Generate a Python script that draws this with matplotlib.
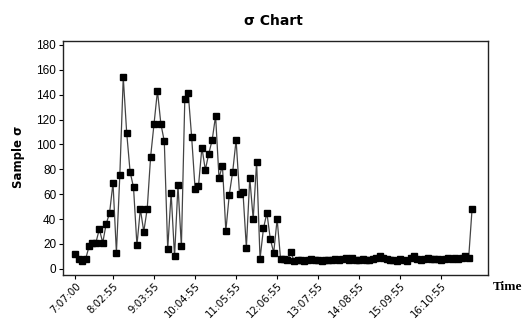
import matplotlib
matplotlib.use("Agg")
import matplotlib.pyplot as plt

# Per-sample standard deviation, in time order
sigma = [
    12, 8, 6.5, 8, 18, 21, 21, 32, 21, 36,
    45, 69, 13, 75.5, 154, 109.5, 78, 65.5, 19, 48,
    30, 48, 90, 116.5, 143, 116.5, 102.5, 16, 61, 10,
    67, 18, 136.5, 141, 106, 64.5, 66.5, 97.5, 79.5, 92.5,
    103.5, 123, 73, 83, 30.5, 59.5, 78, 103.5, 60, 62,
    17, 73, 40, 86, 8, 32.5, 45, 24, 13, 40,
    8, 8, 7, 13.5, 6, 7, 7, 6.5, 7, 8,
    7, 7, 6.5, 7, 7, 7.5, 8, 7, 8, 8.5,
    7.5, 9, 7, 7, 8, 7, 7.5, 8, 9, 10.5,
    9, 8, 7, 7.5, 6.5, 8, 7.5, 6.5, 9, 10,
    8, 7, 8, 9, 8, 8, 8, 7.5, 8, 8.5,
    8, 9, 8, 9, 10, 8.5, 48,
]

tick_pos = [0, 11, 23, 35, 47, 59, 71, 83, 95, 107]
tick_labels = ["7:07:00", "8:02:55", "9:03:55", "10:04:55", "11:05:55",
               "12:06:55", "13:07:55", "14:08:55", "15:09:55", "16:10:55"]
y_ticks = list(range(0, 181, 20))

fig = plt.figure(figsize=(5.3, 3.21), dpi=100)
ax = fig.add_axes([0.119, 0.143, 0.802, 0.729])

x = list(range(len(sigma)))
ax.plot(x, sigma, color="#444444", linewidth=0.9, marker="s",
        markersize=4.0, markerfacecolor="black", markeredgecolor="black")

ax.set_xlim(-3.6, 120.7)
ax.set_ylim(-5, 183)
ax.set_yticks(y_ticks)
ax.set_xticks(tick_pos)
ax.set_xticklabels(tick_labels, rotation=45, ha="right", va="top",
                   rotation_mode="anchor", fontsize=7.3, family="DejaVu Sans")
for lbl in ax.get_yticklabels():
    lbl.set_fontsize(8.5)
    lbl.set_family("Liberation Sans")

ax.tick_params(axis="both", direction="out", length=3, width=0.8,
               top=False, right=False, pad=2)
ax.tick_params(axis="x", pad=1)
for s in ax.spines.values():
    s.set_linewidth(1.0)
    s.set_color("#222222")

fig.text(0.515, 0.935, "σ Chart", ha="center", va="center",
         fontsize=10, fontweight="bold", family="DejaVu Sans")
fig.text(0.035, 0.51, "Sample σ", ha="center", va="center", rotation=90,
         fontsize=8.5, fontweight="bold", family="DejaVu Sans")
fig.text(0.957, 0.105, "Time", ha="center", va="center",
         fontsize=9.5, fontweight="bold", family="Liberation Serif")

fig.savefig("out.png", dpi=100)
